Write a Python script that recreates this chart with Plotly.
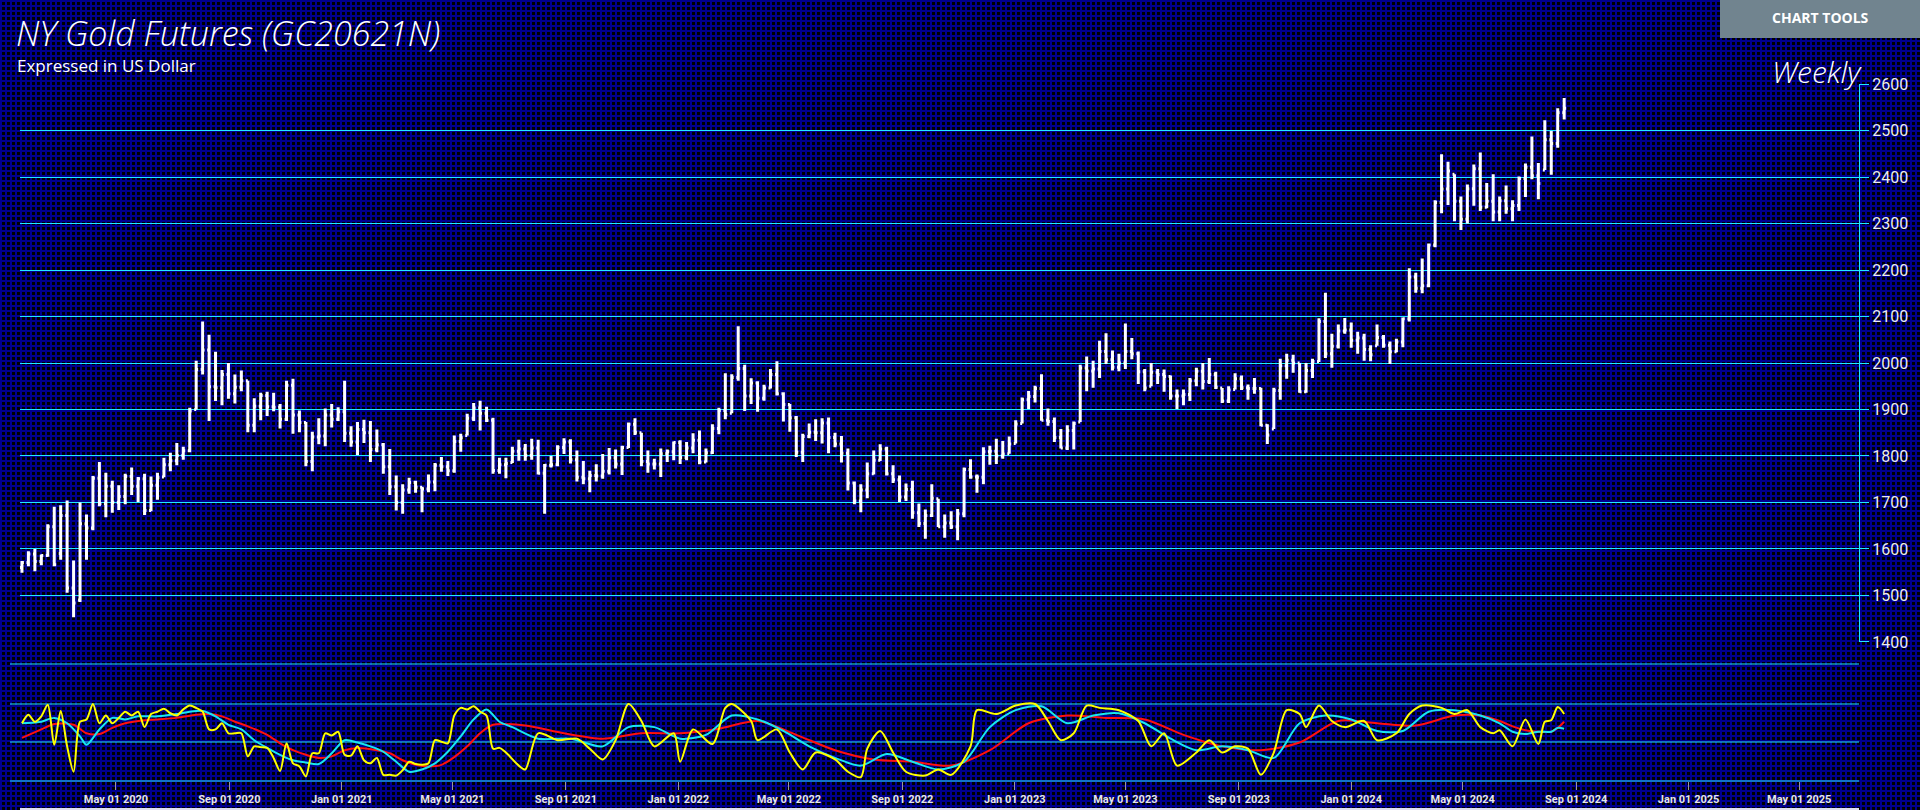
import base64, struct, zlib
import numpy as np
import pandas as pd
import plotly.graph_objects as go

# ---------------- data ----------------
start_week = "2020-01-20"
n_weeks = 240
high = [1574,1595,1600,1588,1653,1691,1694,1704,1575,1700,1674,1757,1787,1764,1747,1737,1762,1775,1755,1762,
        1756,1764,1796,1807,1828,1820,1904,2005,2089,2061,2024,1985,2000,1975,1984,1962,1924,1936,1938,1936,
        1912,1962,1966,1898,1873,1852,1881,1902,1912,1905,1962,1864,1873,1878,1875,1857,1828,1815,1758,1739,
        1753,1747,1734,1760,1785,1798,1789,1844,1848,1891,1914,1919,1906,1882,1796,1796,1820,1835,1826,1837,
        1835,1783,1800,1823,1838,1836,1812,1789,1768,1782,1804,1817,1814,1822,1872,1881,1850,1812,1794,1816,
        1814,1831,1834,1830,1849,1855,1816,1868,1904,1978,1976,2079,1996,1967,1961,1953,1987,2004,1937,1912,
        1886,1848,1870,1879,1881,1883,1850,1843,1816,1745,1739,1786,1812,1825,1820,1780,1758,1741,1747,1698,
        1685,1739,1708,1674,1681,1686,1775,1793,1760,1819,1822,1837,1832,1842,1877,1926,1940,1951,1976,1902,
        1883,1858,1866,1874,1996,2014,2005,2048,2064,2027,2020,2085,2054,2025,1987,2000,1987,1986,1973,1943,
        1943,1968,1990,2000,2011,1981,1946,1950,1978,1973,1954,1968,1947,1868,1947,2009,2020,2018,2000,2000,
        2009,2096,2151,2063,2083,2097,2087,2067,2063,2038,2083,2060,2046,2052,2098,2204,2194,2225,2257,2350,
        2449,2433,2406,2358,2384,2427,2453,2387,2406,2358,2382,2350,2401,2429,2487,2430,2522,2499,2548,2570]
low = [1549,1563,1552,1565,1583,1563,1577,1506,1453,1486,1577,1640,1692,1668,1678,1684,1696,1716,1701,1673,
       1681,1706,1754,1767,1780,1792,1808,1900,1975,1875,1918,1909,1923,1913,1939,1851,1851,1877,1886,1896,
       1859,1875,1848,1851,1778,1767,1825,1821,1861,1875,1830,1820,1802,1828,1787,1808,1762,1716,1683,1676,
       1719,1721,1679,1722,1724,1766,1757,1764,1809,1844,1875,1855,1873,1762,1762,1752,1785,1790,1790,1792,
       1760,1676,1775,1778,1804,1784,1745,1739,1722,1745,1751,1760,1773,1759,1817,1845,1778,1764,1771,1755,
       1787,1791,1783,1791,1806,1782,1786,1804,1847,1879,1892,1962,1897,1912,1895,1919,1945,1930,1874,1852,
       1798,1787,1838,1832,1827,1806,1819,1786,1726,1696,1679,1709,1760,1789,1758,1742,1701,1703,1665,1647,
       1622,1669,1647,1624,1643,1619,1668,1751,1721,1739,1781,1783,1794,1805,1827,1870,1901,1915,1876,1865,
       1830,1816,1813,1814,1873,1939,1947,1968,1998,1984,1982,1987,2008,1955,1939,1950,1955,1938,1921,1901,
       1909,1918,1950,1943,1955,1944,1914,1914,1943,1942,1921,1934,1864,1826,1858,1921,1966,1979,1936,1936,
       1968,2002,2011,1990,2031,2063,2033,2020,2005,2004,2037,2033,1998,2023,2034,2089,2151,2150,2163,2249,
       2322,2340,2305,2286,2300,2338,2327,2333,2305,2305,2321,2305,2327,2357,2395,2352,2415,2405,2463,2524]
close = [1571,1589,1573,1586,1648,1566,1672,1516,1484,1654,1645,1752,1698,1735,1700,1713,1756,1735,1751,1683,
         1737,1753,1781,1790,1801,1811,1897,1986,2028,1949,1947,1975,1934,1948,1962,1866,1907,1930,1906,1905,
         1879,1952,1888,1872,1788,1841,1843,1888,1879,1895,1849,1830,1857,1850,1814,1824,1777,1734,1700,1727,
         1743,1733,1729,1744,1780,1777,1768,1831,1839,1881,1903,1892,1877,1769,1781,1784,1810,1815,1801,1817,
         1763,1780,1781,1818,1830,1792,1754,1751,1758,1757,1767,1796,1783,1818,1868,1851,1788,1783,1783,1805,
         1809,1829,1797,1817,1834,1787,1807,1859,1898,1889,1969,1988,1929,1957,1924,1946,1975,1934,1911,1882,
         1808,1842,1851,1850,1871,1840,1826,1806,1742,1703,1727,1762,1791,1815,1762,1749,1712,1728,1678,1655,
         1672,1709,1648,1656,1648,1676,1771,1755,1754,1809,1810,1800,1804,1826,1869,1921,1928,1945,1877,1874,
         1840,1817,1855,1870,1989,1983,1987,2025,2007,1991,2000,2025,2020,1981,1946,1980,1975,1971,1929,1929,
         1932,1962,1982,1960,1975,1948,1918,1942,1966,1947,1945,1945,1866,1845,1941,1994,2006,2000,1938,1984,
         2003,2089,2020,2036,2069,2071,2049,2054,2029,2018,2055,2038,2024,2045,2095,2185,2161,2166,2254,2345,
         2374,2413,2348,2309,2375,2418,2335,2348,2325,2349,2332,2339,2397,2421,2403,2386,2480,2472,2538,2548]
open_ = [1560,1571,1589,1573,1586,1648,1590,1672,1516,1490,1654,1645,1752,1698,1735,1700,1713,1756,1735,1751,
         1683,1737,1755,1781,1790,1801,1811,1900,1986,2028,1949,1947,1975,1934,1948,1962,1866,1907,1930,1906,
         1905,1879,1952,1888,1872,1788,1841,1843,1888,1879,1895,1849,1830,1857,1850,1814,1824,1777,1734,1700,
         1727,1743,1733,1729,1744,1780,1777,1768,1831,1844,1881,1903,1892,1877,1769,1781,1786,1810,1815,1801,
         1817,1763,1780,1781,1818,1830,1792,1754,1751,1758,1757,1767,1796,1783,1818,1868,1850,1788,1783,1783,
         1805,1809,1829,1797,1817,1834,1787,1807,1859,1898,1892,1969,1988,1929,1957,1924,1946,1975,1934,1911,
         1882,1808,1842,1851,1850,1871,1840,1826,1806,1742,1703,1727,1762,1791,1815,1762,1749,1712,1728,1678,
         1655,1672,1708,1648,1656,1648,1676,1771,1755,1754,1809,1810,1800,1805,1827,1870,1921,1928,1945,1877,
         1874,1840,1817,1855,1873,1989,1983,1987,2025,2007,1991,2000,2025,2020,1981,1950,1980,1975,1971,1929,
         1929,1932,1962,1982,1960,1975,1946,1918,1943,1966,1947,1945,1945,1866,1858,1941,1994,2006,2000,1938,
         1984,2003,2089,2020,2036,2069,2071,2049,2054,2029,2037,2055,2038,2024,2045,2095,2185,2161,2166,2254,
         2345,2374,2406,2348,2309,2375,2418,2335,2348,2325,2349,2332,2339,2397,2421,2403,2415,2480,2472,2538]

# oscillator readings: week index (from start_week) and value on a 0..100 scale
yel_w = list(range(0, 75)) + [
    75, 77, 78, 80, 83, 86, 88, 90, 92, 94, 96, 98, 101, 102, 104, 107, 109, 110, 113, 114,
    117, 119, 121, 123, 126, 128, 130, 131, 133, 135, 137, 140, 142, 144, 147, 148, 151, 154, 157, 159,
    161, 163, 165, 167, 170, 173, 175, 177, 179, 182, 184, 186, 188, 190, 192, 194, 196, 198, 199, 201,
    203, 205, 208, 210, 213, 215, 217, 220, 222, 224, 226, 228, 229, 231, 233, 235, 236, 237, 238, 239]
yel_v = [75, 86, 77, 84, 99, 47, 91, 45, 12, 77,
         80, 100, 75, 85, 75, 82, 90, 85, 90, 70,
         87, 90, 94, 88, 85, 93, 98, 95, 90, 67,
         67, 75, 62, 62, 62, 32, 45, 44, 43, 30,
         13, 49, 23, 19, 6, 36, 36, 62, 59, 64,
         34, 33, 45, 27, 23, 30, 8, 8, 7, 14,
         25, 22, 21, 23, 53, 51, 49, 85, 95, 93,
         97, 90, 85, 42, 43] + [
    37, 20, 15, 62, 53, 55, 42, 28, 53, 100, 78, 45, 62, 25, 67, 48, 95, 100, 78, 53,
    67, 37, 15, 37, 28, 12, 5, 42, 65, 37, 12, 7, 15, 8, 45, 92, 87, 98, 100, 78,
    53, 62, 98, 95, 92, 78, 45, 62, 20, 37, 53, 37, 45, 42, 8, 37, 92, 87, 70, 98,
    78, 70, 78, 53, 62, 87, 98, 95, 87, 92, 70, 62, 66, 45, 80, 48, 77, 79, 96, 87]

cyn_w = [0, 2, 3, 5, 7, 9, 10, 12, 14, 16, 18, 21, 24, 26, 28, 30, 32, 34, 36, 38,
         40, 42, 44, 46, 48, 50, 52, 54, 56, 58, 60, 62, 64, 66, 68, 70, 72, 74,
         76, 80, 85, 90, 94, 98, 102, 106, 110, 114, 118, 122, 126, 130, 134, 138, 142, 146,
         150, 154, 158, 162, 166, 170, 174, 178, 182, 186, 190, 194, 198, 202, 206, 210, 214, 218,
         222, 226, 229, 231, 233, 235, 237, 238, 239]
cyn_v = [75, 76, 77, 82, 75, 58, 47, 67, 82, 80, 84, 84, 87, 90, 91, 84, 73, 67, 53, 43,
         34, 27, 24, 22, 36, 53, 50, 45, 38, 25, 12, 15, 23, 38, 58, 80, 93, 77,
         70, 55, 55, 45, 70, 70, 55, 60, 85, 80, 65, 45, 30, 20, 35, 25, 15, 25,
         70, 92, 97, 75, 85, 88, 75, 55, 40, 45, 40, 30, 75, 85, 80, 65, 65, 90,
         92, 85, 75, 64, 61, 64, 64, 69, 68]

red_w = [0, 3, 5, 8, 10, 12, 14, 16, 19, 21, 24, 27, 29, 31, 33, 35, 38, 40, 42, 44,
         46, 48, 50, 52, 55, 57, 59, 61, 63, 65, 67, 69, 71, 73,
         78, 84, 90, 96, 102, 108, 114, 120, 126, 132, 138, 144, 150, 156, 162, 168, 174, 180,
         186, 192, 198, 204, 210, 216, 222, 226, 229, 231, 233, 235, 237, 238, 239]
red_v = [56, 67, 74, 73, 62, 61, 69, 75, 79, 80, 82, 86, 87, 84, 77, 71, 60, 49, 40, 34,
         30, 32, 40, 43, 40, 36, 27, 21, 19, 21, 31, 45, 62, 73,
         72, 62, 55, 62, 62, 68, 78, 60, 40, 28, 25, 20, 40, 75, 85, 82, 80, 60,
         45, 40, 50, 78, 75, 72, 85, 85, 78, 71, 66, 64, 64, 69, 77]

# ---------------- helpers ----------------
W, H = 1920, 810
L, R, T, B = 20, 1859, 84, 781
PW, PH = R - L, B - T


def px(x):
    return (x - L) / PW


def py(y):
    return (B - y) / PH


def make_png(arr):
    h, w, _ = arr.shape
    raw = b"".join(b"\x00" + arr[r].tobytes() for r in range(h))

    def chunk(t, d):
        c = struct.pack(">I", len(d)) + t + d
        return c + struct.pack(">I", zlib.crc32(t + d) & 0xFFFFFFFF)

    return (b"\x89PNG\r\n\x1a\n" + chunk(b"IHDR", struct.pack(">IIBBBBB", w, h, 8, 2, 0, 0, 0))
            + chunk(b"IDAT", zlib.compress(raw, 9)) + chunk(b"IEND", b""))


# dense blue mesh background
img = np.zeros((H, W, 3), dtype=np.uint8)
yy, xx = np.mgrid[0:H, 0:W]
mask = ((yy % 5) < 2) | ((xx % 5) < 2)
img[mask] = (0, 0, 142)
bg_uri = "data:image/png;base64," + base64.b64encode(make_png(img)).decode()

dates = pd.date_range(start_week, periods=n_weeks, freq="7D")

fig = go.Figure()
fig.add_trace(go.Ohlc(
    x=dates, open=open_, high=high, low=low, close=close,
    increasing=dict(line=dict(color="white", width=3)),
    decreasing=dict(line=dict(color="white", width=3)),
    tickwidth=0.3, xaxis="x", yaxis="y", showlegend=False, hoverinfo="skip"))

for wk, vals, col in [(red_w, red_v, "#FF1010"), (cyn_w, cyn_v, "#19E6F0"), (yel_w, yel_v, "#FFFF00")]:
    pts = list(zip(wk, vals))
    fig.add_trace(go.Scatter(x=[dates[i] for i, _ in pts], y=[v for _, v in pts], mode="lines",
                             line=dict(color=col, width=2, shape="spline", smoothing=0.8),
                             xaxis="x", yaxis="y2", showlegend=False, hoverinfo="skip"))

grid_c = "#22E8FF"
shapes = []
for yv in [664, 704, 742, 781]:
    shapes.append(dict(type="line", xref="paper", yref="paper", x0=px(10), x1=1, y0=py(yv), y1=py(yv),
                       line=dict(color=grid_c, width=1), layer="below"))
shapes.append(dict(type="line", xref="paper", yref="paper", x0=0, x1=1, y0=py(809), y1=py(809),
                   line=dict(color="#E0E0F0", width=2)))
shapes.append(dict(type="rect", xref="paper", yref="paper", x0=px(1720), x1=px(1925), y0=py(38), y1=py(-5),
                   fillcolor="#71848F", line=dict(width=0)))

annotations = [
    dict(text="NY Gold Futures (GC20621N)", xref="paper", yref="paper", x=px(14), y=py(33), xanchor="left",
         yanchor="middle", showarrow=False,
         font=dict(family="Open Sans", size=34, color="white", style="italic", weight=300)),
    dict(text="Expressed in US Dollar", xref="paper", yref="paper", x=px(15), y=py(66), xanchor="left",
         yanchor="middle", showarrow=False, font=dict(family="Open Sans", size=17, color="white")),
    dict(text="Weekly", xref="paper", yref="paper", x=px(1864), y=py(71), xanchor="right",
         yanchor="middle", showarrow=False,
         font=dict(family="Open Sans", size=30, color="white", style="italic", weight=300)),
    dict(text="CHART TOOLS", xref="paper", yref="paper", x=px(1820), y=py(18), xanchor="center",
         yanchor="middle", showarrow=False, font=dict(family="Open Sans", size=14, color="white", weight="bold")),
]

fig.update_layout(
    width=W, height=H,
    margin=dict(l=L, r=W - R, t=T, b=H - B, pad=0, autoexpand=False),
    paper_bgcolor="#00003A", plot_bgcolor="rgba(0,0,0,0)",
    images=[dict(source=bg_uri, xref="paper", yref="paper", x=px(0), y=py(0), sizex=W / PW, sizey=H / PH,
                 xanchor="left", yanchor="top", sizing="stretch", layer="below")],
    xaxis=dict(anchor="y2", domain=[0, 1], range=["2020-01-17 21:00", "2025-07-04 20:00"],
               rangeslider=dict(visible=False), showgrid=False, zeroline=False, automargin=False,
               tickformat="%b %d %Y", dtick="M4", tick0="2020-01-01", ticks="outside", ticklen=8,
               tickcolor="#9A9A9A", tickwidth=1, tickfont=dict(family="Roboto", size=11, color="#E6E6E6", weight="bold"),
               showline=False),
    yaxis=dict(domain=[py(642), 1], range=[1399.9, 2600.1], side="right", tickvals=list(range(1400, 2601, 100)),
               showgrid=True, gridcolor=grid_c, gridwidth=1, zeroline=False, showline=True, linecolor=grid_c,
               linewidth=1, ticks="outside", ticklen=9, tickcolor=grid_c, automargin=False,
               tickfont=dict(family="Roboto", size=16, color="#EDEDED")),
    yaxis2=dict(domain=[0, py(664)], range=[0, 152], showgrid=False, zeroline=False, showticklabels=False,
                ticks="", showline=False, automargin=False),
    shapes=shapes, annotations=annotations, hovermode=False,
)

fig.write_html("out.html", config={"displayModeBar": False},
               post_script="document.body.style.margin='0';document.body.style.overflow='hidden';")
